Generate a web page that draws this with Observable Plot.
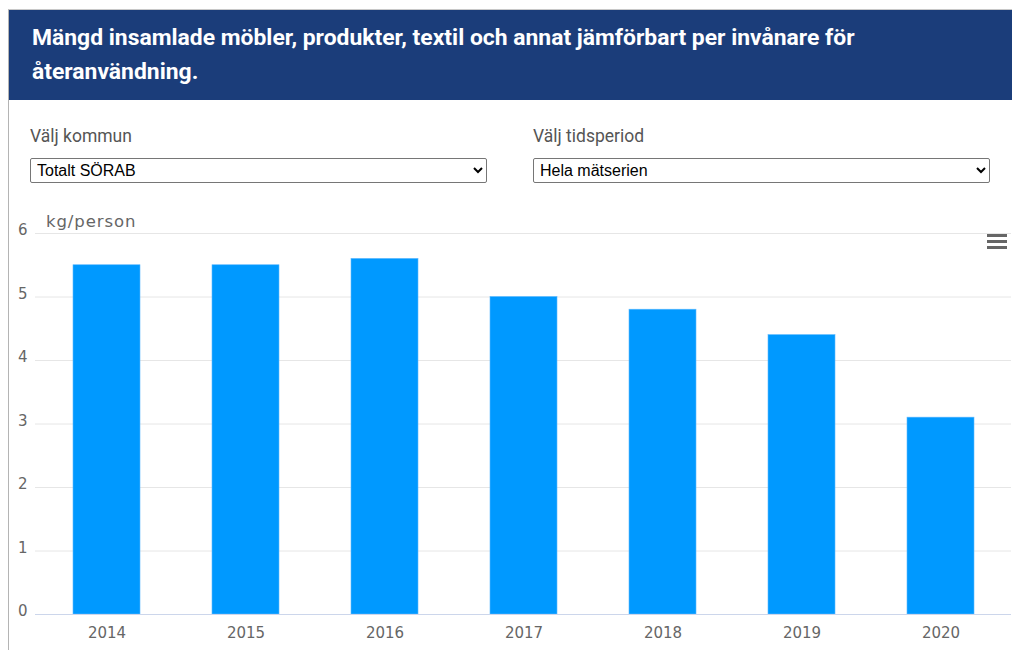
<!DOCTYPE html>
<html>
<head>
<meta charset="utf-8">
<script src="https://cdn.jsdelivr.net/npm/d3@7"></script>
<script src="https://cdn.jsdelivr.net/npm/@observablehq/plot@0.6"></script>
<style>
  html, body { margin: 0; padding: 0; background: #fff; }
  body { width: 1012px; height: 650px; position: relative; overflow: hidden; font-family: Roboto, "Noto Sans", sans-serif; }
  #frame { position: absolute; left: 8px; top: 9px; width: 1010px; height: 660px; border-left: 1px solid #b4b4b4; border-top: 1px solid #c8c8c8; }
  #header { position: absolute; left: 9px; top: 10px; width: 1003px; height: 90px; background: #1b3d7a; }
  #title { position: absolute; left: 23px; top: 11px; color: #fff; font: bold 22.9px/34px Roboto, sans-serif; width: 880px; margin: 0; }
  .lbl { position: absolute; top: 126px; color: #555; font: 17.5px Roboto, sans-serif; }
  select { position: absolute; top: 158px; height: 25px; font: 16px "Liberation Sans", Arial, sans-serif; color: #000; background: #fff; border: 1px solid #767676; border-radius: 2px; padding: 0 2px; }
  #unit { position: absolute; left: 46px; top: 212px; color: #666; font: 16.5px "DejaVu Sans", sans-serif; letter-spacing: 0.9px; }
  #menu { position: absolute; left: 987px; top: 234px; width: 20px; }
  #menu div { height: 3px; background: #666; margin-bottom: 3px; }
  #chart { position: absolute; left: 0; top: 200px; }
</style>
</head>
<body>
<div id="frame"></div>
<div id="header"><h1 id="title">Mängd insamlade möbler, produkter, textil och annat jämförbart per invånare för återanvändning.</h1></div>
<div class="lbl" style="left:30px">Välj kommun</div>
<div class="lbl" style="left:533px">Välj tidsperiod</div>
<select style="left:30px; width:457px"><option>Totalt SÖRAB</option></select>
<select style="left:533px; width:457px"><option>Hela mätserien</option></select>
<div id="chart"></div>
<div id="unit">kg/person</div>
<div id="menu"><div></div><div></div><div></div></div>
<script>
const years = ["2014", "2015", "2016", "2017", "2018", "2019", "2020"];
const values = [5.5, 5.5, 5.6, 5.0, 4.8, 4.4, 3.1];
const yTicks = [0, 1, 2, 3, 4, 5, 6];

const data = years.map((y, i) => ({year: y, value: values[i]}));

const chart = Plot.plot({
  width: 1012,
  height: 450,
  marginTop: 33,
  marginBottom: 36,
  marginLeft: 35,
  marginRight: 1,
  style: {fontFamily: "'DejaVu Sans', sans-serif", fontSize: "15px", color: "#666", background: "transparent"},
  x: {domain: years, paddingInner: 0.52, paddingOuter: 0.26, label: null},
  y: {domain: [0, 6], label: null},
  marks: [
    Plot.ruleY(yTicks.filter(d => d > 0), {stroke: "#e6e6e6", strokeWidth: 1, strokeOpacity: 1}),
    Plot.barY(data, {x: "year", y: "value", fill: "#0099ff", stroke: "#5db9ff", strokeWidth: 0.6}),
    Plot.ruleY([0], {stroke: "#ccd6eb", strokeWidth: 1.2}),
    Plot.axisY({ticks: yTicks, tickFormat: d3.format("d"), tickSize: 0, tickPadding: 8, dy: -3, label: null, fill: "#666", fontSize: 15}),
    Plot.axisX({tickSize: 0, tickPadding: 13, label: null, fill: "#666", fontSize: 15})
  ]
});
document.getElementById("chart").appendChild(chart);
</script>
</body>
</html>
